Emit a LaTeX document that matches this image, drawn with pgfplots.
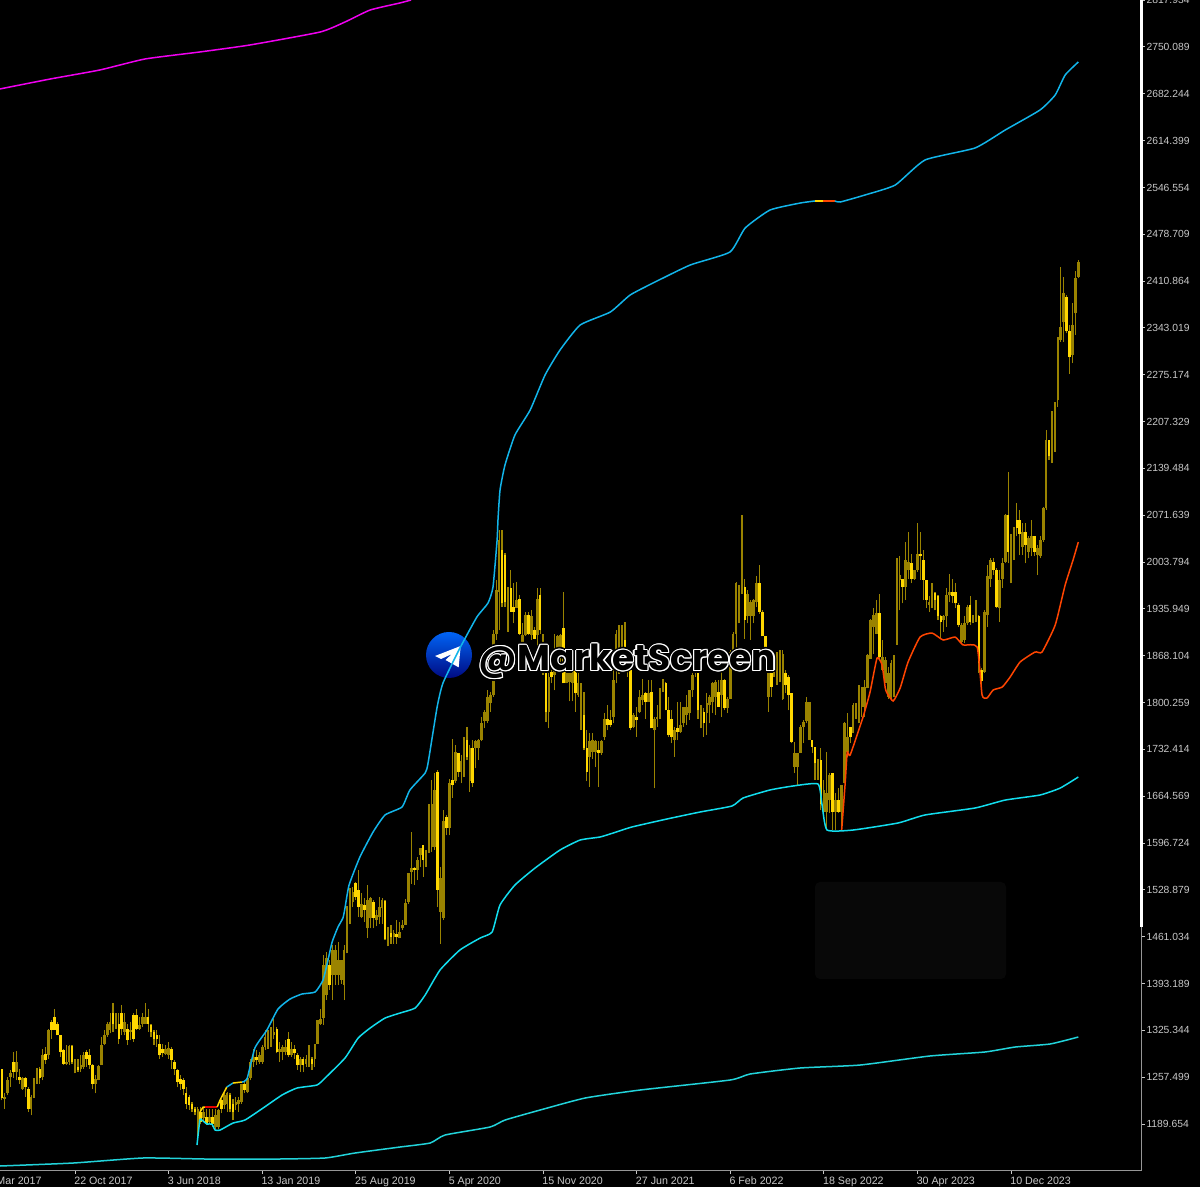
\documentclass[border=0pt]{standalone}
\usepackage{fontspec}
\usepackage{pgfplots}
\usepackage{pgfplotstable}
\pgfplotsset{compat=1.18}
\setmainfont{Liberation Sans}
\newfontfamily\wmfont{Poppins}
\definecolor{dgold}{HTML}{9A8300}
\definecolor{bgold}{HTML}{FFD700}
\definecolor{upblue}{HTML}{12B5EA}
\definecolor{midcy}{HTML}{12DDEE}
\definecolor{botcy}{HTML}{22D3DA}
\definecolor{ored}{HTML}{FF4500}
\definecolor{lab}{HTML}{C8C8C8}
\definecolor{mag}{HTML}{F000F0}
\pgfplotstableread{
k lo hi b c t
0 1224 1270 1227 1270 1
1 1212 1234 1226 1229 0
2 1231 1258 1234 1253 0
3 1243 1268 1258 1263 0
4 1256 1294 1265 1280 1
5 1253 1296 1265 1280 0
6 1248 1270 1253 1258 1
7 1239 1258 1241 1257 0
8 1229 1258 1243 1257 1
9 1207 1243 1212 1241 1
10 1202 1231 1212 1229 0
11 1227 1256 1229 1255 0
12 1248 1271 1256 1270 0
13 1248 1272 1256 1270 1
14 1253 1299 1258 1289 0
15 1277 1301 1282 1291 1
16 1284 1328 1289 1326 0
17 1313 1340 1326 1338 1
18 1326 1357 1326 1345 1
19 1318 1338 1318 1335 1
20 1287 1318 1294 1318 1
21 1275 1299 1277 1297 1
22 1275 1304 1277 1280 0
23 1275 1304 1280 1303 0
24 1277 1304 1280 1303 1
25 1263 1284 1270 1282 0
26 1265 1284 1268 1272 1
27 1265 1289 1270 1275 0
28 1270 1294 1272 1289 0
29 1272 1297 1284 1294 1
30 1270 1299 1275 1289 1
31 1241 1277 1248 1275 1
32 1234 1260 1248 1255 0
33 1253 1275 1254 1273 0
34 1275 1316 1275 1304 0
35 1304 1326 1305 1318 0
36 1316 1338 1318 1335 0
37 1321 1350 1326 1338 0
38 1323 1365 1335 1350 1
39 1328 1350 1335 1350 0
40 1306 1350 1313 1335 1
41 1318 1362 1328 1350 1
42 1318 1350 1323 1338 0
43 1304 1335 1311 1328 1
44 1311 1338 1323 1326 0
45 1309 1350 1313 1347 1
46 1326 1357 1328 1347 1
47 1326 1345 1328 1333 0
48 1330 1350 1335 1345 0
49 1335 1365 1335 1345 0
50 1323 1357 1335 1345 1
51 1316 1335 1323 1333 1
52 1304 1326 1313 1323 1
53 1301 1326 1313 1318 1
54 1284 1318 1289 1306 1
55 1287 1306 1292 1299 1
56 1289 1304 1291 1299 0
57 1284 1309 1289 1300 0
58 1270 1301 1282 1299 1
59 1260 1282 1270 1280 1
60 1243 1270 1251 1268 1
61 1239 1260 1248 1255 1
62 1231 1256 1241 1253 1
63 1212 1243 1219 1234 1
64 1210 1231 1217 1229 1
65 1207 1222 1212 1219 1
66 1202 1214 1207 1212 1
67 1169 1214 1183 1212 0
68 1190 1214 1193 1207 1
69 1193 1214 1198 1207 0
70 1188 1212 1190 1200 1
71 1190 1212 1193 1200 0
72 1185 1212 1190 1200 1
73 1183 1212 1185 1202 0
74 1183 1212 1185 1210 0
75 1205 1226 1212 1224 1
76 1212 1234 1217 1231 0
77 1207 1236 1219 1234 0
78 1207 1234 1212 1231 1
79 1195 1226 1207 1219 1
80 1210 1229 1217 1222 0
81 1207 1229 1219 1224 0
82 1219 1248 1222 1247 0
83 1234 1251 1239 1248 1
84 1234 1258 1236 1256 0
85 1253 1284 1256 1280 0
86 1272 1299 1280 1287 0
87 1275 1297 1282 1287 1
88 1277 1294 1280 1289 0
89 1277 1304 1280 1301 0
90 1297 1326 1301 1316 0
91 1299 1326 1313 1318 0
92 1301 1330 1313 1321 0
93 1313 1342 1318 1323 0
94 1292 1330 1294 1328 1
95 1280 1309 1294 1299 0
96 1282 1304 1294 1301 0
97 1289 1311 1294 1301 0
98 1287 1323 1289 1313 1
99 1287 1309 1289 1299 0
100 1284 1304 1292 1299 1
101 1268 1292 1275 1289 1
102 1265 1287 1275 1284 0
103 1265 1287 1275 1284 1
104 1272 1289 1277 1284 0
105 1272 1304 1277 1284 0
106 1268 1287 1277 1284 1
107 1272 1306 1284 1306 0
108 1306 1340 1306 1340 0
109 1333 1357 1335 1342 0
110 1333 1434 1343 1420 0
111 1369 1439 1376 1430 0
112 1384 1427 1391 1420 1
113 1369 1449 1406 1442 0
114 1391 1449 1406 1442 0
115 1391 1453 1406 1427 0
116 1393 1427 1398 1427 0
117 1369 1449 1391 1442 0
118 1437 1505 1439 1497 0
119 1480 1531 1497 1512 0
120 1504 1533 1512 1526 0
121 1514 1541 1519 1539 1
122 1490 1558 1504 1528 1
123 1488 1524 1490 1509 0
124 1483 1517 1500 1507 1
125 1459 1536 1473 1514 0
126 1473 1519 1488 1517 0
127 1473 1514 1488 1512 1
128 1476 1500 1485 1492 0
129 1480 1519 1490 1504 0
130 1480 1517 1502 1514 0
131 1456 1514 1457 1513 1
132 1447 1475 1459 1467 0
133 1451 1478 1461 1467 1
134 1451 1471 1460 1466 0
135 1451 1485 1460 1465 1
136 1459 1483 1459 1468 0
137 1471 1485 1473 1478 0
138 1478 1515 1478 1510 0
139 1509 1553 1512 1553 0
140 1538 1613 1555 1561 0
141 1536 1562 1558 1560 1
142 1543 1577 1558 1572 0
143 1562 1590 1579 1589 0
144 1548 1594 1572 1594 1
145 1562 1587 1572 1584 0
146 1582 1654 1584 1645 0
147 1584 1688 1591 1654 0
148 1587 1698 1591 1674 0
149 1504 1703 1529 1700 1
150 1451 1562 1497 1546 0
151 1485 1645 1488 1628 0
152 1608 1637 1618 1635 1
153 1608 1690 1618 1683 0
154 1662 1748 1681 1688 1
155 1683 1739 1686 1729 0
156 1693 1727 1700 1727 1
157 1683 1724 1700 1715 0
158 1693 1751 1705 1744 0
159 1717 1765 1722 1746 1
160 1671 1739 1686 1734 0
161 1678 1746 1683 1734 1
162 1705 1746 1734 1744 0
163 1717 1748 1734 1746 0
164 1744 1780 1746 1770 0
165 1763 1789 1773 1787 0
166 1770 1818 1773 1809 0
167 1787 1816 1799 1811 0
168 1809 1905 1811 1900 0
169 1891 1978 1900 1963 0
170 1905 2050 1961 2036 0
171 1939 2050 1944 2021 1
172 1939 2017 1946 2014 1
173 1903 1968 1939 1963 0
174 1932 1992 1932 1966 1
175 1915 1973 1932 1939 1
176 1937 1975 1937 1949 0
177 1898 1956 1900 1951 1
178 1843 1915 1869 1898 0
179 1896 1932 1898 1927 0
180 1898 1932 1900 1927 1
181 1891 1934 1898 1925 0
182 1893 1910 1893 1905 1
183 1867 1966 1898 1951 0
184 1900 1966 1905 1956 1
185 1840 1900 1857 1898 0
186 1772 1852 1787 1845 1
187 1763 1843 1787 1838 0
188 1828 1847 1838 1845 1
189 1818 1900 1840 1860 0
190 1862 1898 1867 1896 0
191 1857 1900 1871 1898 0
192 1828 1961 1828 1908 1
193 1828 1857 1828 1852 0
194 1802 1867 1830 1852 0
195 1802 1864 1828 1862 0
196 1787 1867 1814 1857 1
197 1809 1843 1811 1828 0
198 1761 1828 1785 1826 0
199 1732 1816 1734 1782 1
200 1686 1760 1700 1734 1
201 1678 1756 1722 1744 0
202 1719 1756 1729 1746 0
203 1707 1746 1729 1744 0
204 1678 1744 1727 1731 1
205 1724 1746 1727 1744 0
206 1746 1785 1751 1777 0
207 1760 1797 1768 1777 1
208 1765 1789 1768 1775 1
209 1770 1862 1780 1833 0
210 1828 1905 1847 1900 0
211 1842 1913 1857 1903 0
212 1871 1913 1886 1903 0
213 1864 1917 1864 1891 1
214 1838 1871 1847 1862 0
215 1760 1852 1763 1847 1
216 1763 1785 1765 1782 0
217 1751 1794 1775 1780 1
218 1785 1818 1787 1809 0
219 1797 1835 1804 1811 0
220 1777 1816 1801 1814 1
221 1801 1833 1801 1814 0
222 1763 1833 1763 1816 1
223 1676 1780 1760 1777 0
224 1765 1797 1777 1780 0
225 1777 1821 1780 1818 0
226 1816 1835 1818 1830 0
227 1789 1830 1789 1828 1
228 1751 1809 1753 1789 1
229 1741 1789 1751 1777 1
230 1722 1765 1746 1760 0
231 1746 1801 1758 1763 1
232 1756 1801 1758 1768 0
233 1765 1794 1770 1794 0
234 1768 1811 1782 1794 0
235 1775 1818 1785 1818 0
236 1809 1843 1818 1840 0
237 1838 1867 1845 1857 1
238 1777 1847 1789 1847 1
239 1763 1797 1782 1792 0
240 1751 1792 1770 1787 1
241 1753 1814 1785 1799 0
242 1770 1811 1797 1809 0
243 1785 1830 1801 1828 0
244 1782 1833 1809 1830 0
245 1794 1833 1794 1816 1
246 1780 1847 1811 1833 0
247 1789 1835 1792 1833 1
248 1785 1809 1792 1806 0
249 1806 1876 1806 1874 0
250 1847 1903 1874 1900 0
251 1876 1975 1900 1973 0
252 1915 1970 1917 1970 0
253 1958 2072 1958 1990 0
254 1893 1980 1920 1968 1
255 1915 1963 1925 1958 0
256 1891 1949 1925 1946 0
257 1915 1951 1925 1949 0
258 1939 1983 1946 1973 0
259 1929 1999 1932 1973 1
260 1896 1934 1896 1932 1
261 1852 1896 1876 1896 1
262 1787 1847 1809 1843 0
263 1809 1871 1823 1843 1
264 1838 1852 1838 1847 0
265 1826 1874 1838 1871 0
266 1830 1876 1835 1874 0
267 1804 1876 1806 1871 0
268 1814 1847 1826 1843 1
269 1789 1840 1811 1838 1
270 1741 1814 1743 1814 1
271 1698 1743 1707 1727 0
272 1681 1727 1707 1727 0
273 1727 1768 1727 1765 0
274 1741 1775 1765 1772 0
275 1770 1809 1773 1801 0
276 1746 1801 1746 1801 0
277 1727 1746 1736 1746 1
278 1688 1736 1712 1736 1
279 1688 1719 1705 1717 0
280 1644 1734 1654 1717 1
281 1635 1688 1642 1673 0
282 1615 1729 1642 1669 0
283 1640 1698 1659 1695 0
284 1615 1698 1642 1698 1
285 1615 1669 1642 1659 0
286 1640 1676 1642 1659 1
287 1615 1681 1642 1681 0
288 1683 1772 1683 1770 0
289 1722 1785 1729 1751 0
290 1741 1765 1751 1765 1
291 1756 1799 1756 1797 0
292 1777 1799 1780 1797 0
293 1770 1826 1789 1823 0
294 1780 1823 1794 1823 0
295 1780 1833 1794 1823 0
296 1821 1871 1821 1869 0
297 1864 1922 1864 1920 0
298 1871 1937 1910 1927 0
299 1900 1949 1900 1930 0
300 1864 1958 1867 1930 1
301 1847 1891 1847 1867 0
302 1828 1867 1828 1862 0
303 1806 1852 1809 1843 0
304 1804 1862 1809 1857 0
305 1809 1869 1852 1869 0
306 1884 2009 1884 1990 0
307 1934 2012 1978 1985 0
308 1944 1980 1968 1980 1
309 1949 2033 1968 2007 0
310 1980 2048 1992 2004 0
311 1973 2016 1980 2002 1
312 1978 1992 1980 1992 0
313 1990 2060 1992 2016 0
314 1978 2048 2012 2016 1
315 1949 2021 1978 2007 1
316 1937 1978 1949 1978 1
317 1932 1954 1942 1946 0
318 1937 1973 1949 1961 0
319 1934 1961 1949 1959 1
320 1920 1956 1925 1954 1
321 1893 1927 1917 1925 1
322 1903 1927 1920 1925 0
323 1910 1966 1925 1956 0
324 1946 1987 1956 1961 0
325 1944 1980 1954 1961 1
326 1937 1973 1944 1961 1
327 1910 1944 1913 1942 1
328 1886 1915 1888 1913 0
329 1886 1925 1891 1915 0
330 1913 1942 1915 1939 0
331 1913 1954 1917 1942 1
332 1915 1927 1917 1925 0
333 1917 1949 1922 1927 0
334 1843 1927 1857 1925 1
335 1818 1850 1831 1847 1
336 1843 1934 1845 1932 0
337 1910 1999 1927 1983 0
338 1968 2009 1980 2007 0
339 1985 2009 1992 2004 1
340 1937 1995 1939 1992 1
341 1917 1992 1937 1978 0
342 1966 2009 1980 2002 0
343 2002 2074 2004 2072 0
344 2002 2135 2019 2072 1
345 1973 2045 2004 2019 0
346 2007 2055 2019 2053 0
347 2041 2089 2053 2065 1
348 2014 2079 2045 2065 1
349 2014 2060 2026 2048 0
350 2002 2060 2029 2048 1
351 2009 2041 2019 2038 0
352 2012 2065 2024 2041 0
353 2012 2041 2019 2041 1
354 1985 2029 2014 2024 0
355 2009 2041 2012 2036 0
356 2033 2084 2036 2082 0
357 2079 2195 2082 2181 0
358 2152 2181 2157 2181 1
359 2147 2222 2154 2166 0
360 2164 2236 2166 2234 0
361 2229 2330 2239 2330 0
362 2323 2432 2326 2345 0
363 2323 2417 2352 2393 0
364 2335 2391 2338 2388 1
365 2277 2347 2301 2338 1
366 2292 2379 2304 2347 0
367 2333 2425 2364 2415 0
368 2415 2442 2417 2439 0
}\candles
\begin{document}
\begin{tikzpicture}[x=1pt,y=1pt]
\path[use as bounding box] (0,0) rectangle (720,712.2);
\fill[black] (0,0) rectangle (720,712.2);
% faint panel
\fill[fill={rgb,255:red,8;green,8;blue,8},rounded corners=3pt] (489,124.8) rectangle (603.6,183);
% logo (under the lines)
\shade[top color={rgb,255:red,0;green,100;blue,245},bottom color={rgb,255:red,0;green,10;blue,130}] (269.4,319.2) circle (13.8);
\fill[white] (261,318.6) -- (276.4,324.6) -- (275.2,311.8) -- (267.3,316.2) -- (271.2,319.8) -- (264.6,316.8) -- cycle;
\begin{axis}[
  at={(0pt,9.78pt)},anchor=south west,scale only axis,
  width=684.9pt,height=702.42pt,
  xmin=-0.641,xmax=389.6,ymin=1122,ymax=2818.2,
  axis x line=bottom,axis y line=right,
  axis line style={draw=lab!75!black,line width=0.6pt,-},
  tick align=outside,major tick length=2pt,
  tick style={draw=lab,line width=0.6pt},
  xtick={25,57,89,121,153,185,217,249,281,313,345},
  xticklabels={22 Oct 2017,3 Jun 2018,13 Jan 2019,25 Aug 2019,5 Apr 2020,15 Nov 2020,27 Jun 2021,6 Feb 2022,18 Sep 2022,30 Apr 2023,10 Dec 2023},
  x tick label style={font=\fontsize{6.4}{7}\selectfont,text=lab,anchor=north west,inner sep=0pt,text height=5pt,text depth=1.2pt,yshift=-1.2pt,xshift=-0.6pt},
  ytick={1189.654,1257.499,1325.344,1393.189,1461.034,1528.879,1596.724,1664.569,1732.414,1800.259,1868.104,1935.949,2003.794,2071.639,2139.484,2207.329,2275.174,2343.019,2410.864,2478.709,2546.554,2614.399,2682.244,2750.089,2817.934},
  y tick label style={font=\fontsize{6.2}{7}\selectfont,text=lab,anchor=west,inner sep=0pt,xshift=0.8pt,
    /pgf/number format/.cd,fixed,fixed zerofill,precision=3,set thousands separator={},assume math mode=true},
  scaled y ticks=false,clip=true,
  every axis plot/.append style={forget plot}]
\addplot[draw=none,mark=none,error bars/.cd,y dir=plus,y explicit,error mark=none,error bar style={draw=dgold,line width=0.7pt}]
  table[x=k,y=lo,y error plus expr=\thisrow{hi}-\thisrow{lo}]{\candles};
\addplot[draw=none,mark=none,error bars/.cd,y dir=plus,y explicit,error mark=none,error bar style={draw=dgold,line width=1.6pt}]
  table[x=k,y expr={\thisrow{t}==0?\thisrow{b}:nan},y error plus expr=\thisrow{c}-\thisrow{b}]{\candles};
\addplot[draw=none,mark=none,error bars/.cd,y dir=plus,y explicit,error mark=none,error bar style={draw=bgold,line width=1.6pt}]
  table[x=k,y expr={\thisrow{t}==1?\thisrow{b}:nan},y error plus expr=\thisrow{c}-\thisrow{b}]{\candles};
% magenta
\addplot[mag,line width=0.9pt,smooth,tension=0.3] coordinates {(-0.64,2689.3)(16.5,2703.7)(33.5,2716.8)(48.9,2732.7)(67.7,2742.9)(84.8,2753)(108.8,2771.8)(117.3,2786.3)(125.9,2803.7)(136.1,2813.9)(139.9,2818.2)};
% bottom
\addplot[botcy,line width=0.9pt,smooth,tension=0.3] coordinates {(-0.64,1128.8)(24.3,1133.1)(48.3,1140.4)(70.1,1138.9)(94,1138.9)(110.5,1140.4)(120.7,1147.6)(136.1,1156.3)(146.4,1162.1)(151.5,1173.7)(166.9,1185.3)(172,1195.4)(184,1209.9)(199.4,1227.3)(218.2,1238.9)(249,1253.4)(255.8,1262.1)(272.9,1270.8)(293.4,1275.1)(317.3,1288.2)(336.1,1294)(346.4,1301.2)(358.4,1305.6)(368,1315.7)};
% middle
\addplot[midcy,line width=0.9pt,smooth,tension=0.3] coordinates {(66.7,1159.2)(67.7,1195.4)(68.4,1195.4)(70.1,1189.6)(71.8,1189.6)(72.9,1180.9)(74.6,1180.9)(79,1191)(83.1,1195.4)(89.3,1212.8)(95.8,1231.7)(100.9,1241.8)(107.7,1246.1)(110.5,1256.3)(117.3,1285.2)(121.8,1314.2)(125.9,1328.7)(131,1343.2)(136.1,1350.4)(141.3,1357.7)(144.7,1376.5)(149.8,1412.8)(156.6,1441.8)(163.5,1459.1)(167.6,1467.8)(170.3,1507)(175.4,1535.9)(182.3,1560.6)(190.8,1586.6)(197.7,1601.1)(204.5,1605.5)(209,1611.3)(215.4,1620)(227.4,1631.6)(238.7,1641.7)(249.6,1650.4)(253.4,1662)(262.6,1673.6)(270.5,1679.4)(279,1682.3)(280.4,1651.8)(282.1,1615.6)(291,1615.6)(306.4,1625.8)(315.6,1637.4)(332.7,1647.5)(343,1659)(354.9,1666.3)(361.8,1676.4)(368,1692.4)};
% upper
\addplot[bgold,line width=0.9pt] coordinates {(67.7,1207)(68.8,1214.2)(69.5,1214.2)};
\addplot[red!90!black,line width=0.9pt] coordinates {(69.5,1214.2)(73.6,1214.2)};
\addplot[bgold,line width=0.9pt] coordinates {(73.6,1214.2)(74.6,1224.4)(76.9,1243.2)};
\addplot[upblue,line width=0.9pt] coordinates {(76.9,1243.2)(79,1249)};
\addplot[bgold,line width=0.9pt] coordinates {(79,1249)(82.1,1250.5)};
\addplot[upblue,line width=0.9pt,smooth,tension=0.3] coordinates {(82.1,1250.5)(83.8,1254.8)(86.5,1299.8)(90.6,1325.8)(94.4,1356.3)(98.5,1370.7)(102.6,1378)(107.1,1380.9)(109.8,1398.3)(111.5,1427.3)(112.9,1453.3)(114.9,1475)(116.6,1488.1)(117.3,1502.6)(118.7,1536)(122.4,1576.5)(126.9,1612.7)(131,1637.4)(136.8,1649)(139.5,1673.6)(144.7,1698.2)(145.7,1712.7)(148.8,1793.8)(150.8,1828.6)(156.6,1879.3)(162.4,1924.3)(166.2,1944.5)(167.9,1967.7)(169.3,2035.8)(169.6,2064.8)(170.3,2108.2)(172,2144.5)(175.4,2187.9)(180.6,2224.1)(185.7,2274.9)(190.8,2311)(197.7,2347.3)(208,2366.1)(214.8,2390.8)(223.3,2409.6)(235.3,2434.2)(248.9,2453)(254.1,2487.8)(262.6,2513.9)(272.9,2524)(278,2527)};
\addplot[bgold,line width=0.9pt] coordinates {(278,2527)(280.8,2527)};
\addplot[ored,line width=0.9pt] coordinates {(280.8,2527)(284.8,2527)};
\addplot[upblue,line width=0.9pt,smooth,tension=0.3] coordinates {(284.8,2527)(286.6,2525.5)(295.1,2535.7)(305.4,2550.1)(315.6,2586.4)(332.7,2603.8)(343,2629.8)(354.9,2658.8)(360.1,2680.6)(363.5,2709.5)(368,2728.4)};
% orange-red
\addplot[ored,line width=0.9pt,smooth,tension=0.3] coordinates {(287.1,1615.6)(288.3,1683.7)(289,1728.6)(290,1724.3)(294.4,1779.3)(296.8,1815.6)(299.2,1864.8)(300.9,1854.7)(302,1821.4)(302.6,1814.1)(304.7,1802.5)(307.1,1821.4)(309.8,1859)(313.9,1895.2)(318,1901)(321.8,1890.9)(325.9,1895.2)(328.6,1883.7)(333.4,1880.8)(335.1,1811.2)(336.8,1806.9)(338.9,1818.5)(342,1822.8)(344.7,1837.3)(348.1,1859)(353.2,1873.5)(355.6,1873.5)(360.1,1912.6)(363.5,1970.6)(366.2,2006.8)(368,2032.9)};
\end{axis}
% white upper part of the price scale
\draw[white,line width=1.3pt] (684.9,712.2) -- (684.9,155.9);
% date label that runs off the left edge
\node[anchor=north west,inner sep=0pt,text=lab,font=\fontsize{6.4}{7}\selectfont,text height=5pt,text depth=1.2pt] at (-11.2,6.9) {12 Mar 2017};
% watermark text
\foreach \a in {0,30,...,330}{\node[anchor=base west,inner sep=0pt,text=black,shift={(\a:1.6pt)}] at (287,309.8) {\wmfont\bfseries\fontsize{21.5}{24}\selectfont @MarketScreen};}
\foreach \a in {0,30,...,330}{\node[anchor=base west,inner sep=0pt,text=white,shift={(\a:0.7pt)}] at (287,309.8) {\wmfont\bfseries\fontsize{21.5}{24}\selectfont @MarketScreen};}
\node[anchor=base west,inner sep=0pt,text=black] at (287,309.8) {\wmfont\bfseries\fontsize{21.5}{24}\selectfont @MarketScreen};
\end{tikzpicture}
\end{document}
